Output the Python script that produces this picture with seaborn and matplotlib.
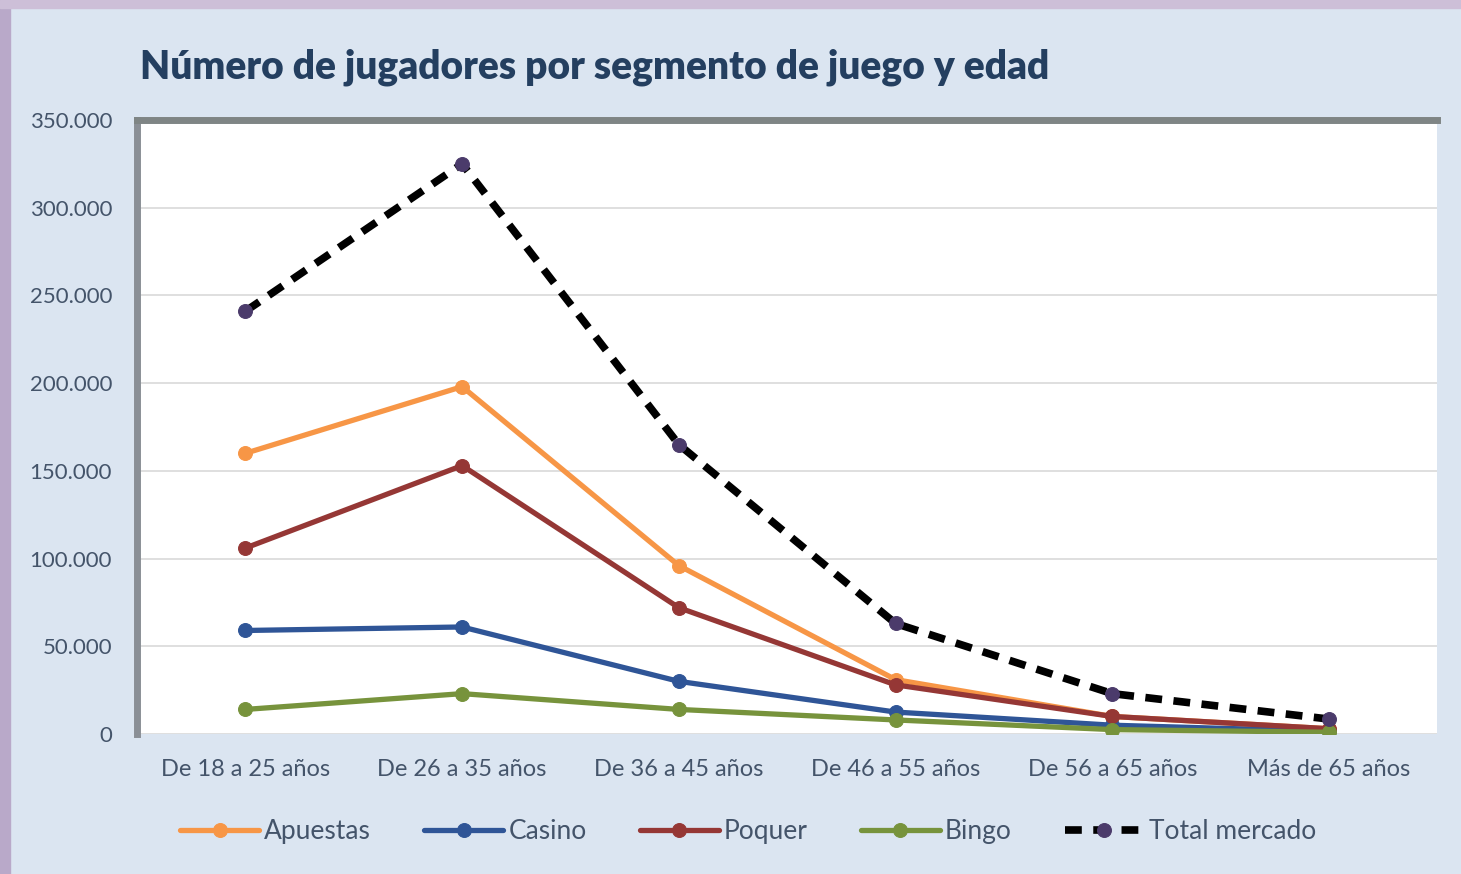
import matplotlib
matplotlib.use("Agg")
import matplotlib.pyplot as plt
import matplotlib.ticker as mticker
from matplotlib.patches import Rectangle
import pandas as pd
import seaborn as sns

# data
edades = ["De 18 a 25 años", "De 26 a 35 años", "De 36 a 45 años",
          "De 46 a 55 años", "De 56 a 65 años", "Más de 65 años"]
apuestas = [160000, 198000, 96000, 31000, 10000, 3000]
casino = [59000, 61000, 30000, 12500, 5000, 1500]
poquer = [106000, 153000, 72000, 28000, 10000, 3000]
bingo = [14000, 23000, 14000, 8000, 2500, 1000]
total = [241000, 325000, 165000, 63000, 23000, 8500]

series = {"Apuestas": apuestas, "Casino": casino, "Poquer": poquer,
          "Bingo": bingo, "Total mercado": total}
colores = {"Apuestas": "#f79646", "Casino": "#2f5597", "Poquer": "#953735",
           "Bingo": "#77933c", "Total mercado": "#000000"}

df = pd.DataFrame([(e, s, v) for s, vals in series.items() for e, v in zip(edades, vals)],
                  columns=["edad", "segmento", "jugadores"])

sns.set_style("white")
plt.rcParams["font.family"] = ["Lato", "DejaVu Sans"]

fig = plt.figure(figsize=(14.61, 8.74), dpi=100)
fig.patch.set_facecolor("#dbe5f1")
# purple frame of the slide
fig.patches.append(Rectangle((0, 0), 0.007, 1, transform=fig.transFigure, color="#b9a9c9", zorder=0))
fig.patches.append(Rectangle((0, 0.991), 1, 0.009, transform=fig.transFigure, color="#cdbfd8", zorder=0))

ax = fig.add_axes([0.0938, 0.1602, 0.89, 0.7025])
ax.set_facecolor("white")

for nombre in series:
    d = df[df["segmento"] == nombre]
    if nombre == "Total mercado":
        sns.lineplot(data=d, x="edad", y="jugadores", ax=ax, color="black", lw=5.5,
                     linestyle=(0, (2.2, 1.5)), marker="o", markersize=10,
                     markerfacecolor="#4b3b6b", markeredgecolor="#4b3b6b",
                     label=nombre, zorder=5, sort=False)
    else:
        sns.lineplot(data=d, x="edad", y="jugadores", ax=ax, color=colores[nombre], lw=3.8,
                     marker="o", markersize=10, markeredgecolor=colores[nombre],
                     label=nombre, zorder=4, sort=False)

ax.set_xlim(-0.5, 5.5)
ax.set_ylim(0, 350000)
ax.yaxis.set_major_locator(mticker.MultipleLocator(50000))
ax.yaxis.set_major_formatter(mticker.FuncFormatter(lambda v, p: f"{int(v):,}".replace(",", ".")))
ax.grid(axis="y", color="#d9d9d9", lw=1.2)
ax.set_axisbelow(True)
ax.set_xlabel("")
ax.set_ylabel("")
ax.tick_params(axis="both", length=0, labelcolor="#44546a")
ax.tick_params(axis="x", pad=18, labelsize=17)
ax.tick_params(axis="y", pad=18, labelsize=16)

for side in ["right", "bottom"]:
    ax.spines[side].set_visible(False)
ax.spines["top"].set_color("#7f8585")
ax.spines["top"].set_linewidth(5)
ax.spines["left"].set_color("#8a8f96")
ax.spines["left"].set_linewidth(5)

ax.legend(loc="upper center", bbox_to_anchor=(0.47, -0.1), ncol=5, frameon=False,
          fontsize=19, handlelength=3.0, columnspacing=2.0, handletextpad=0.2,
          labelcolor="#44546a")

fig.text(0.0958, 0.923, "Número de jugadores por segmento de juego y edad",
         fontsize=28, fontweight="heavy", color="#243f60", va="center")

fig.savefig("out.png", dpi=100, facecolor=fig.get_facecolor())
